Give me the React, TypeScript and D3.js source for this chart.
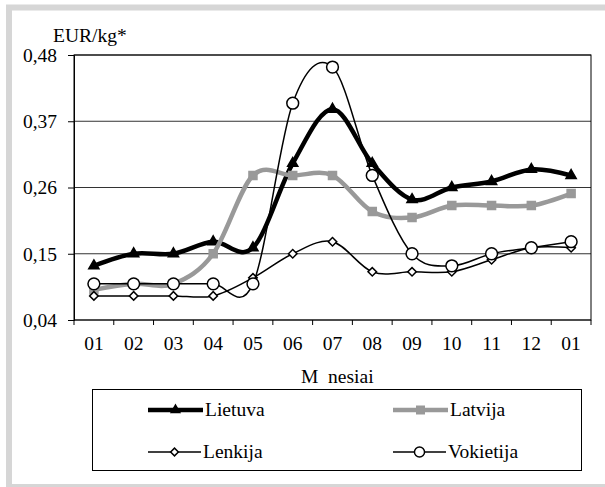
import React, { useEffect, useRef } from "react";
import * as d3 from "d3";

// Mėnesių žymės (x ašis)
const months = ["01", "02", "03", "04", "05", "06", "07", "08", "09", "10", "11", "12", "01b"];
const monthLabels = ["01", "02", "03", "04", "05", "06", "07", "08", "09", "10", "11", "12", "01"];

// Kainos, EUR/kg
const lietuva = [0.13, 0.15, 0.15, 0.17, 0.16, 0.3, 0.39, 0.3, 0.24, 0.26, 0.27, 0.29, 0.28];
const latvija = [0.09, 0.1, 0.1, 0.15, 0.28, 0.28, 0.28, 0.22, 0.21, 0.23, 0.23, 0.23, 0.25];
const lenkija = [0.08, 0.08, 0.08, 0.08, 0.11, 0.15, 0.17, 0.12, 0.12, 0.12, 0.14, 0.16, 0.16];
const vokietija = [0.1, 0.1, 0.1, 0.1, 0.1, 0.4, 0.46, 0.28, 0.15, 0.13, 0.15, 0.16, 0.17];

const yTicks = [0.04, 0.15, 0.26, 0.37, 0.48];

interface Series {
  name: string;
  values: number[];
  color: string;
  width: number;
  symbol: d3.SymbolType;
  size: number;
  legendSize: number;
  rotate: number;
  fill: string;
}

const series: Series[] = [
  { name: "Lietuva", values: lietuva, color: "#000", width: 4.5, symbol: d3.symbolTriangle, size: 45, legendSize: 32, rotate: 0, fill: "#000" },
  { name: "Latvija", values: latvija, color: "#999", width: 4.5, symbol: d3.symbolSquare, size: 64, legendSize: 56, rotate: 0, fill: "#999" },
  { name: "Lenkija", values: lenkija, color: "#000", width: 1.5, symbol: d3.symbolSquare, size: 36, legendSize: 30, rotate: 45, fill: "#fff" },
  { name: "Vokietija", values: vokietija, color: "#000", width: 1.5, symbol: d3.symbolCircle, size: 110, legendSize: 80, rotate: 0, fill: "#fff" },
];

const FONT = "Liberation Serif, DejaVu Serif, serif";
const FS = 19.5;

const App: React.FC = () => {
  const svgRef = useRef<SVGSVGElement>(null);
  const width = 605;
  const height = 487;

  useEffect(() => {
    if (!svgRef.current) return;
    const svg = d3.select(svgRef.current);
    svg.selectAll("*").remove();

    // pilkas rėmelis
    svg
      .append("rect")
      .attr("x", 9)
      .attr("y", 7.5)
      .attr("width", 620)
      .attr("height", 479.5)
      .attr("fill", "#fff")
      .attr("stroke", "#d6d6d6")
      .attr("stroke-width", 6);

    const margin = { top: 55, left: 74, right: 14, bottom: 167 };
    const plotW = width - margin.left - margin.right;
    const plotH = height - margin.top - margin.bottom;

    const g = svg.append("g").attr("transform", `translate(${margin.left},${margin.top})`);

    const x = d3.scaleBand().domain(months).range([0, plotW]);
    const y = d3.scaleLinear().domain([0.04, 0.48]).range([plotH, 0]);
    const cx = (i: number) => (x(months[i]) as number) + x.bandwidth() / 2;

    // tinklelis
    g.append("g")
      .selectAll("line")
      .data(yTicks)
      .enter()
      .append("line")
      .attr("x1", 0)
      .attr("x2", plotW)
      .attr("y1", (d) => y(d))
      .attr("y2", (d) => y(d))
      .attr("stroke", "#333")
      .attr("stroke-width", 1);

    g.append("rect")
      .attr("width", plotW)
      .attr("height", plotH)
      .attr("fill", "none")
      .attr("stroke", "#000")
      .attr("stroke-width", 1);

    // Y ašis
    const yAxis = g
      .append("g")
      .call(
        d3
          .axisLeft(y)
          .tickValues(yTicks)
          .tickSize(6)
          .tickPadding(11)
          .tickFormat((d) => d3.format(".2f")(d as number).replace(".", ","))
      )
      .attr("font-family", FONT)
      .attr("font-size", FS);
    yAxis.select(".domain").attr("stroke", "#000");
    yAxis.selectAll("text").attr("fill", "#000");

    // X ašis
    const xAxis = g
      .append("g")
      .attr("transform", `translate(0,${plotH})`)
      .call(d3.axisBottom(x).tickSize(0).tickPadding(16).tickFormat((d, i) => monthLabels[i]))
      .attr("font-family", FONT)
      .attr("font-size", FS);
    xAxis.select(".domain").remove();
    xAxis.selectAll("text").attr("fill", "#000");

    const bounds = months.map((m) => x(m) as number).concat([plotW]);
    g.append("g")
      .selectAll("line")
      .data(bounds)
      .enter()
      .append("line")
      .attr("x1", (d) => d)
      .attr("x2", (d) => d)
      .attr("y1", plotH)
      .attr("y2", plotH + 5)
      .attr("stroke", "#000");

    // linijos (Excel glotninimas ~ Catmull-Rom)
    const line = d3
      .line<number>()
      .x((d, i) => cx(i))
      .y((d) => y(d))
      .curve(d3.curveCardinal.tension(0));

    series.forEach((s) => {
      g.append("path")
        .datum(s.values)
        .attr("fill", "none")
        .attr("stroke", s.color)
        .attr("stroke-width", s.width)
        .attr("stroke-linejoin", "round")
        .attr("d", line);
      g.append("g")
        .selectAll("path")
        .data(s.values)
        .enter()
        .append("path")
        .attr("d", d3.symbol().type(s.symbol).size(s.size)())
        .attr("transform", (d, i) => `translate(${cx(i)},${y(d)}) rotate(${s.rotate})`)
        .attr("fill", s.fill)
        .attr("stroke", s.fill === "#fff" ? "#000" : s.fill)
        .attr("stroke-width", 1.5);
    });

    const text = svg.append("g").attr("font-family", FONT).attr("font-size", FS);

    // ašių pavadinimai
    text.append("text").attr("x", 53).attr("y", 42).text("EUR/kg*");

    text
      .append("text")
      .attr("x", 301)
      .attr("y", 383)
      .attr("xml:space", "preserve")
      .text("M  nesiai");

    // legenda
    const legend = text.append("g");
    legend
      .append("rect")
      .attr("x", 92.5)
      .attr("y", 389.5)
      .attr("width", 489)
      .attr("height", 81)
      .attr("fill", "#fff")
      .attr("stroke", "#000");

    const legendPos = [
      [148, 410],
      [393, 410],
      [148, 452],
      [393, 452],
    ];
    series.forEach((s, i) => {
      const [lx, ly] = legendPos[i];
      const len = s.width > 2 ? 55 : 53;
      legend
        .append("line")
        .attr("x1", lx)
        .attr("x2", lx + len)
        .attr("y1", ly)
        .attr("y2", ly)
        .attr("stroke", s.color)
        .attr("stroke-width", s.width);
      legend
        .append("path")
        .attr("d", d3.symbol().type(s.symbol).size(s.legendSize)())
        .attr("transform", `translate(${lx + len / 2},${ly}) rotate(${s.rotate})`)
        .attr("fill", s.fill)
        .attr("stroke", s.fill === "#fff" ? "#000" : s.fill)
        .attr("stroke-width", 1.5);
      legend
        .append("text")
        .attr("x", lx + len + 2)
        .attr("y", ly + 6)
        .text(s.name);
    });
  }, []);

  return (
    <svg
      ref={svgRef}
      width={width}
      height={height}
      style={{ position: "absolute", left: 0, top: 0, background: "#fff" }}
    />
  );
};

export default App;
